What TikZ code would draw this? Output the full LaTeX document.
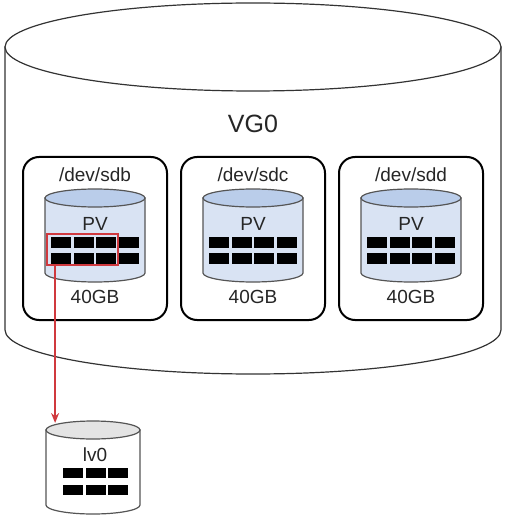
\documentclass[tikz,border=0pt]{standalone}
\usepackage{fontspec}
\setmainfont{Liberation Sans}
\usetikzlibrary{arrows.meta, calc, positioning}

\definecolor{pvbody}{HTML}{D9E3F3}
\definecolor{pvtop}{HTML}{BACDEA}
\definecolor{lvtop}{HTML}{E4E4E4}
\definecolor{edge}{HTML}{555555}
\definecolor{pick}{HTML}{D0393E}
\definecolor{ink}{HTML}{262626}

\tikzset{
  disk/.style={draw=black, line width=1pt, rounded corners=8pt,
    minimum width=72pt, minimum height=81.5pt},
  txt/.style={text=ink, font=\fontsize{9.5}{11}\selectfont, inner sep=0pt},
  block/.style={fill=black},
  drum/.style={draw=edge, line width=0.6pt},
}

\begin{document}
\begin{tikzpicture}[x=0.5pt, y=0.5pt]
\useasboundingbox (0,0) rectangle (504,-518);
% Draw volume group cylinder
\filldraw[drum, fill=white, draw=black!80] (5,-47) -- (5,-330)
  arc[start angle=180, end angle=360, x radius=248, y radius=44] -- (501,-47) -- cycle;
\filldraw[drum, fill=white, draw=black!80] (253,-47) ellipse [x radius=248, y radius=44];
\node[txt, font=\fontsize{12.5}{15}\selectfont] (vg) at (253,-124) {VG0};
% Draw the three disks with their physical volumes
\foreach \cx/\dev in {95/sdb, 253/sdc, 411/sdd} {
  \node[disk] (\dev) at (\cx,-238.5) {};
  \node[txt] (\dev-name) at (\cx,-175) {/dev/\dev};
  \filldraw[drum, fill=pvbody] (\cx-50,-198) -- (\cx-50,-273)
    arc[start angle=180, end angle=360, x radius=50, y radius=9] -- (\cx+50,-198) -- cycle;
  \filldraw[drum, fill=pvtop] (\cx,-198) ellipse [x radius=50, y radius=9];
  \node[txt] (\dev-pv) at (\cx,-224) {PV};
  \foreach \i in {0,1,2,3} {
    \fill[block] (\cx-44+\i*22.7,-237) rectangle ++(20,-10.5);
    \fill[block] (\cx-44+\i*22.7,-253) rectangle ++(20,-10.5);
  }
  \node[txt] (\dev-size) at (\cx,-297) {40GB};
}
% Selected extents
\node[draw=pick, line width=0.9pt, minimum width=35.5pt, minimum height=15.5pt,
  inner sep=0pt] (sel) at (82.5,-249.5) {};
% Draw logical volume cylinder
\filldraw[drum, fill=white] (46,-430) -- (46,-505)
  arc[start angle=180, end angle=360, x radius=47, y radius=9] -- (140,-430) -- cycle;
\filldraw[drum, fill=lvtop] (93,-430) ellipse [x radius=47, y radius=9];
\coordinate (lvhead) at (56,-423);
\node[txt] (lv) at (95,-455) {lv0};
\foreach \i in {0,1,2} {
  \fill[block] (63+\i*22.7,-468) rectangle ++(20,-10);
  \fill[block] (63+\i*22.7,-485) rectangle ++(20,-10);
}
% Arrow from extents to lv0
\coordinate (tap) at ($(sel.south west)+(9,0)$);
\draw[pick, line width=0.9pt, -{Stealth[length=5pt, width=4pt]}] (tap) -- (tap |- lvhead);
\end{tikzpicture}
\end{document}
